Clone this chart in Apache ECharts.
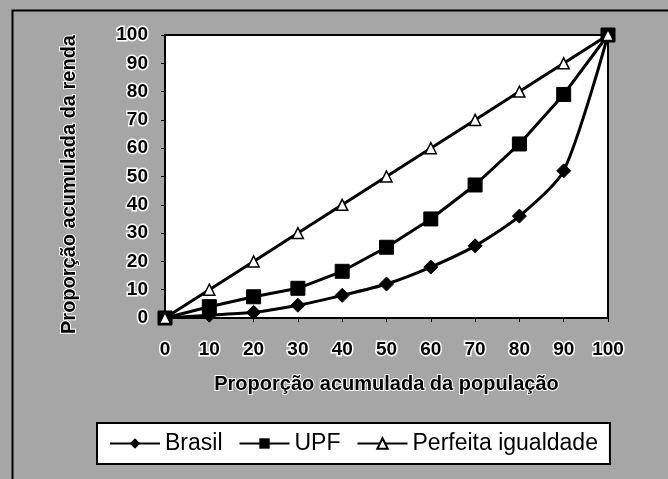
<!DOCTYPE html>
<html>
<head>
<meta charset="utf-8">
<script src="https://cdn.jsdelivr.net/npm/echarts@6/dist/echarts.min.js"></script>
<style>
html,body{margin:0;padding:0;background:#a6a6a6;}
#chart{width:668px;height:479px;}
</style>
</head>
<body>
<div id="chart"></div>
<script>
const populacao = [0, 10, 20, 30, 40, 50, 60, 70, 80, 90, 100];
const brasil = [0, 1, 2, 4.5, 8, 12, 18, 25.5, 36, 52, 100];
const upf = [0, 4, 7.5, 10.5, 16.5, 25, 35, 47, 61.5, 79, 100];
const igualdade = [0, 10, 20, 30, 40, 50, 60, 70, 80, 90, 100];
const seriesNames = ['Brasil', 'UPF', 'Perfeita igualdade'];
const xTitle = 'Proporção acumulada da população';
const yTitle = 'Proporção acumulada da renda';

const pairs = ys => populacao.map((x, i) => [x, ys[i]]);
const FONT = '"Liberation Sans", Arial, sans-serif';

const chart = echarts.init(document.getElementById('chart'), null, {renderer: 'canvas'});
chart.setOption({
  backgroundColor: '#a6a6a6',
  animation: false,
  textStyle: {fontFamily: FONT},
  graphic: [{
    type: 'rect', left: 10, top: 8, z: -1,
    shape: {width: 680, height: 490},
    style: {fill: 'none', stroke: '#000', lineWidth: 2}
  }],
  grid: {
    left: 165, right: 60, top: 35, bottom: 161,
    show: true, backgroundColor: '#fff', borderColor: '#000', borderWidth: 2
  },
  legend: {
    data: seriesNames,
    left: 97, top: 423,
    itemWidth: 50, itemHeight: 13, itemGap: 16,
    padding: [9, 12, 9, 12],
    backgroundColor: '#fff', borderColor: '#000', borderWidth: 2,
    textStyle: {fontSize: 23, color: '#000', fontFamily: FONT}
  },
  xAxis: {
    type: 'value', min: 0, max: 100, interval: 10,
    name: xTitle, nameLocation: 'middle', nameGap: 56,
    nameTextStyle: {fontSize: 20, fontWeight: 'bold', color: '#000', fontFamily: FONT, textBorderColor: '#fff', textBorderWidth: 2},
    axisLine: {lineStyle: {color: '#000', width: 2}},
    axisTick: {show: true, length: 4, lineStyle: {color: '#000'}},
    splitLine: {show: false},
    axisLabel: {fontSize: 19, fontWeight: 'bold', color: '#000', margin: 22, fontFamily: FONT, textBorderColor: '#fff', textBorderWidth: 3}
  },
  yAxis: {
    type: 'value', min: 0, max: 100, interval: 10,
    name: yTitle, nameLocation: 'middle', nameGap: 86,
    nameTextStyle: {fontSize: 20, fontWeight: 'bold', color: '#000', fontFamily: FONT, textBorderColor: '#fff', textBorderWidth: 2, padding: [0, 16, 0, 0]},
    axisLine: {lineStyle: {color: '#000', width: 2}},
    axisTick: {show: true, length: 4, lineStyle: {color: '#000'}},
    splitLine: {show: false},
    axisLabel: {fontSize: 19, fontWeight: 'bold', color: '#000', margin: 17, fontFamily: FONT, textBorderColor: '#fff', textBorderWidth: 3}
  },
  series: [
    {
      name: seriesNames[0], type: 'line', data: pairs(brasil), smooth: 0.25,
      symbol: 'diamond', symbolSize: 14,
      lineStyle: {color: '#000', width: 3}, itemStyle: {color: '#000', borderColor: '#000'}, z: 3
    },
    {
      name: seriesNames[1], type: 'line', data: pairs(upf),
      symbol: 'rect', symbolSize: 14,
      lineStyle: {color: '#000', width: 3}, itemStyle: {color: '#000', borderColor: '#000'}, z: 2
    },
    {
      name: seriesNames[2], type: 'line', data: pairs(igualdade),
      symbol: 'triangle', symbolSize: 11,
      lineStyle: {color: '#000', width: 3}, itemStyle: {color: '#fff', borderColor: '#000', borderWidth: 1.5}, z: 4
    }
  ]
});
</script>
</body>
</html>
